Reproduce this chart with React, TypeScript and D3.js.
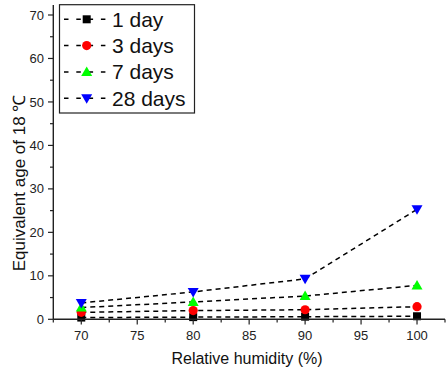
import React from "react";
import * as d3 from "d3";

const humidity = [70, 80, 90, 100];
const day1 = [0.4, 0.5, 0.6, 0.7];
const day3 = [1.6, 2.0, 2.2, 2.9];
const day7 = [2.7, 4.0, 5.35, 7.8];
const day28 = [3.75, 6.3, 9.3, 25.3];
const seriesNames = ["1 day", "3 days", "7 days", "28 days"];
const seriesColors = ["#000000", "#ff0000", "#00ff00", "#0000ff"];
const seriesShapes = ["square", "circle", "triangle", "triangleDown"];
const xMajorTicks = [70, 75, 80, 85, 90, 95, 100];
const yMajorTicks = [0, 10, 20, 30, 40, 50, 60, 70];

const W = 446;
const H = 372;
const font = "'Liberation Sans', Arial, sans-serif";

function Marker({ shape, x, y, color }: { shape: string; x: number; y: number; color: string }) {
  if (shape === "square") return <rect x={x - 4} y={y - 4} width={8} height={8} fill={color} />;
  if (shape === "circle") return <circle cx={x} cy={y} r={4.6} fill={color} />;
  if (shape === "triangle")
    return <path d={`M${x},${y - 5.5} L${x + 5.5},${y + 4} L${x - 5.5},${y + 4} Z`} fill={color} />;
  return <path d={`M${x},${y + 5.5} L${x + 5.5},${y - 4} L${x - 5.5},${y - 4} Z`} fill={color} />;
}

export default function App() {
  const x = d3.scaleLinear().domain([67.5, 102.5]).range([53.3, 445]);
  const y = d3.scaleLinear().domain([0, 72.3]).range([319.3, 5]);
  const data = [day1, day3, day7, day28];
  const line = d3
    .line<number>()
    .x((_, i) => x(humidity[i]))
    .y((v) => y(v));

  const xMinor = d3.range(67.5, 102.6, 2.5).filter((v) => !xMajorTicks.includes(v));
  const yMinor = d3.range(5, 72, 10);

  return (
    <svg
      width={W}
      height={H}
      style={{ position: "absolute", left: 0, top: 0, background: "#fff" }}
      fontFamily={font}
    >
      {data.map((s, k) => (
        <path key={"l" + k} d={line(s) || ""} fill="none" stroke="#000" strokeWidth={1.5} strokeDasharray="5,4" />
      ))}
      {data.map((s, k) =>
        s.map((v, i) => (
          <Marker key={`m${k}-${i}`} shape={seriesShapes[k]} x={x(humidity[i])} y={y(v)} color={seriesColors[k]} />
        ))
      )}

      <line x1={53.3} x2={445} y1={319.3} y2={319.3} stroke="#222" strokeWidth={1.4} />
      <line x1={53.3} x2={53.3} y1={5} y2={319.3} stroke="#222" strokeWidth={1.4} />
      {xMajorTicks.map((t) => (
        <g key={"xt" + t}>
          <line x1={x(t)} x2={x(t)} y1={319.3} y2={324.5} stroke="#222" strokeWidth={1.2} />
          <text x={x(t)} y={339.5} textAnchor="middle" fontSize={13} fill="#222">
            {t}
          </text>
        </g>
      ))}
      {xMinor.map((t) => (
        <line key={"xm" + t} x1={x(t)} x2={x(t)} y1={319.3} y2={322.5} stroke="#222" strokeWidth={1.2} />
      ))}
      {yMajorTicks.map((t) => (
        <g key={"yt" + t}>
          <line x1={48} x2={53.3} y1={y(t)} y2={y(t)} stroke="#222" strokeWidth={1.2} />
          <text x={44} y={y(t) + 4.6} textAnchor="end" fontSize={13} fill="#222">
            {t}
          </text>
        </g>
      ))}
      {yMinor.map((t) => (
        <line key={"ym" + t} x1={50} x2={53.3} y1={y(t)} y2={y(t)} stroke="#222" strokeWidth={1.2} />
      ))}

      <text x={247} y={364} textAnchor="middle" fontSize={16} fill="#111">
        Relative humidity (%)
      </text>
      <text transform={`translate(25,183) rotate(-90)`} textAnchor="middle" fontSize={17} fill="#111">
        Equivalent age of 18 ℃
      </text>

      <rect x={59.5} y={4.7} width={135} height={108.3} fill="#fff" stroke="#222" strokeWidth={1.2} />
      {seriesNames.map((n, k) => {
        const ly = 19.3 + k * 26.3;
        return (
          <g key={"lg" + k}>
            <line x1={64} x2={106} y1={ly} y2={ly} stroke="#000" strokeWidth={1.5} strokeDasharray="4.5,7.8" />
            <Marker shape={seriesShapes[k]} x={86.7} y={ly} color={seriesColors[k]} />
            <text x={112} y={ly + 7.5} fontSize={21} fill="#111">
              {n}
            </text>
          </g>
        );
      })}
    </svg>
  );
}
